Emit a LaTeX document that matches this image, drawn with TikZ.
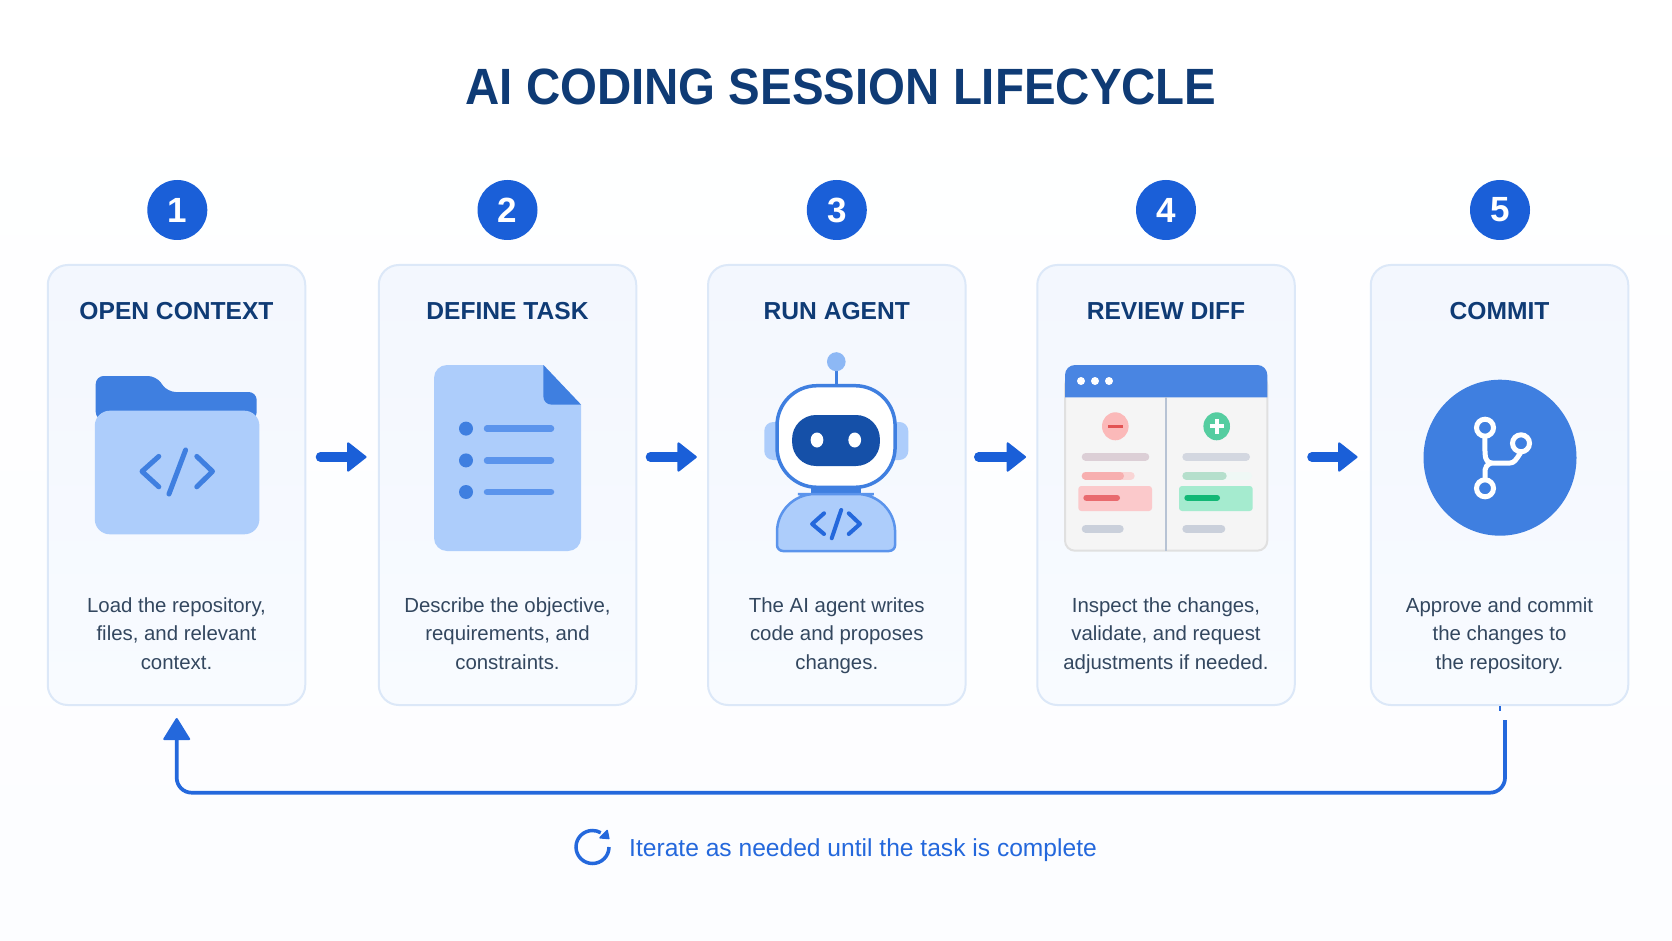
\documentclass[tikz,border=0pt]{standalone}
\usepackage{fontspec}
\setmainfont{Liberation Sans}
\newfontfamily\titlefont[FakeStretch=0.93]{Liberation Sans}
\usetikzlibrary{arrows.meta,calc}
\definecolor{navy}{HTML}{0F3B75}
\definecolor{bodytxt}{HTML}{33475F}
\definecolor{blue1}{HTML}{1A5FD8}
\definecolor{blue2}{HTML}{3F7FE0}
\definecolor{blue3}{HTML}{5B94EC}
\definecolor{pale}{HTML}{ADCDFB}
\definecolor{visor}{HTML}{1550A8}
\definecolor{antenna}{HTML}{8DB8F5}
\definecolor{cardedge}{HTML}{DCE8F8}
\definecolor{linkc}{HTML}{2468DC}
\definecolor{cardtop}{HTML}{F3F7FE}
\definecolor{cardbot}{HTML}{F8FBFF}
\definecolor{pagebot}{HTML}{FCFDFF}
\tikzset{
  x=1pt,y=-1pt,
  cardbox/.style={draw=cardedge,line width=2pt,rounded corners=20pt,top color=cardtop,bottom color=cardbot,minimum width=257.5pt,minimum height=440pt,inner sep=0pt},
  numdot/.style={circle,fill=blue1,text=white,minimum size=60pt,inner sep=0pt,font=\fontsize{35}{35}\selectfont\bfseries},
  headtxt/.style={text=navy,font=\fontsize{24.6}{25}\selectfont\bfseries,inner sep=0pt},
  desctxt/.style={text=bodytxt,align=center,inner sep=0pt,font=\fontsize{20.4}{28.4}\selectfont},
  stepflow/.style={-{Triangle[length=20pt,width=31pt,round,line width=2pt]},line width=9.5pt,blue1,line cap=round},
  loopflow/.style={-{Triangle[length=23pt,width=28pt,round,line width=2pt]},line width=3.7pt,linkc,rounded corners=15pt},
  codeglyph/.style={line width=#1,line cap=round,line join=round},
  bar/.style={line width=8pt,line cap=round},
}
\begin{document}
\begin{tikzpicture}
\useasboundingbox (0,0) rectangle (1672,941);
\shade[top color=white,bottom color=pagebot] (0,0) rectangle (1672,941);
\node[text=navy,font=\fontsize{51}{51}\selectfont\titlefont\bfseries,inner sep=0pt] (title) at (841,87) {AI CODING SESSION LIFECYCLE};

% cards
\node[cardbox] (c1) at (176.5,485) {};
\node[cardbox] (c2) at (507.5,485) {};
\node[cardbox] (c3) at (836.8,485) {};
\node[cardbox] (c4) at (1166,485) {};
\node[cardbox] (c5) at (1499.5,485) {};

% number badges
\node[numdot] (n1) at (177.3,210) {1};
\node[numdot] (n2) at (507.5,210) {2};
\node[numdot] (n3) at (836.8,210) {3};
\node[numdot] (n4) at (1166,210) {4};
\node[numdot] (n5) at (1500,210) {5};

% headings
\node[headtxt] (h1) at (176.5,311) {OPEN CONTEXT};
\node[headtxt] (h2) at (507.5,311) {DEFINE TASK};
\node[headtxt] (h3) at (836.8,311) {RUN AGENT};
\node[headtxt] (h4) at (1166,311) {REVIEW DIFF};
\node[headtxt] (h5) at (1499.5,311) {COMMIT};

% descriptions
\node[desctxt] (d1) at (176.5,633.5) {Load the repository,\\files, and relevant\\context.};
\node[desctxt] (d2) at (507.5,633.5) {Describe the objective,\\requirements, and\\constraints.};
\node[desctxt] (d3) at (836.8,635.5) {The AI agent writes\\code and proposes\\changes.};
\node[desctxt] (d4) at (1166,635.5) {Inspect the changes,\\validate, and request\\adjustments if needed.};
\node[desctxt] (d5) at (1499.5,635.5) {Approve and commit\\the changes to\\the repository.};

% folder icon
\fill[blue2,rounded corners=8pt] (95.7,420) -- (95.7,376) -- (156,376) -- (167.7,392) -- (256.7,392) -- (256.7,420) -- cycle;
\fill[pale,rounded corners=15pt] (94.8,410.7) rectangle (259.4,534.3);
\draw[codeglyph=5pt,color=blue2] (158.8,456.4) -- (142,471.4) -- (158.8,486.8);
\draw[codeglyph=5pt,color=blue2] (185.6,450) -- (169,494);
\draw[codeglyph=5pt,color=blue2] (196.8,456.4) -- (212.5,471.4) -- (196.8,486.8);

% document icon
\fill[pale] (543.4,365) [rounded corners=13pt] -- (434,365) -- (434,551) -- (581,551) [sharp corners] -- (581,404.6) -- cycle;
\fill[blue2] (543.4,365) -- (581,404.6) [rounded corners=8pt] -- (543.4,404.6) [sharp corners] -- cycle;
\foreach \yy in {428.6,460.4,492}{
  \fill[blue2] (466,\yy) circle[radius=7pt];
  \draw[line width=6.5pt,line cap=round,color=blue3] (487,\yy) -- (551,\yy);
}

% robot icon
\begin{scope}[xshift=777pt,xscale=.98,xshift=-777pt]
\fill[pale,rounded corners=9pt] (764,422) rectangle (790,460);
\fill[pale,rounded corners=9pt] (885,422) rectangle (911,460);
\draw[line width=3pt,blue2] (837.5,370) -- (837.5,386);
\fill[antenna] (837.5,361.7) circle[radius=9.5pt];
\fill[blue2] (811.7,480) rectangle (862.5,500);
\draw[line width=3.5pt,blue2,fill=white,rounded corners=40pt] (777,385.7) rectangle (897.5,487.3);
\filldraw[line width=2.5pt,draw=blue3,fill=pale] (837,494) [rounded corners=38pt] -- (777,494) [rounded corners=6pt] -- (777,551) -- (897.5,551) [rounded corners=38pt] -- (897.5,494) -- cycle;
\fill[color=visor,rounded corners=24pt] (792.4,415) rectangle (882,466);
\fill[white] (817.8,440) ellipse[x radius=6.5pt,y radius=7.5pt];
\fill[white] (856.3,440) ellipse[x radius=6.5pt,y radius=7.5pt];
\draw[codeglyph=4pt,color=linkc] (825,513.3) -- (812.8,524) -- (825,534);
\draw[codeglyph=4pt,color=linkc] (842.5,510) -- (832.8,538.3);
\draw[codeglyph=4pt,color=linkc] (850.2,513.3) -- (861.7,524) -- (850.2,534);
\end{scope}

% diff icon
\filldraw[draw=black!12,fill=black!4!white,line width=2pt,rounded corners=10pt] (1065,375) rectangle (1267.3,550.7);
\fill[color=blue2!95!white] (1065,397.3) [rounded corners=10pt] -- (1065,365) -- (1267.3,365) [sharp corners] -- (1267.3,397.3) -- cycle;
\foreach \xx in {1081,1095,1109} \fill[white] (\xx,381) circle[radius=4pt];
\definecolor{divc}{HTML}{B7C3D4}
\draw[line width=2pt,color=divc] (1166.3,397.3) -- (1166.3,550.7);
\definecolor{mycr}{HTML}{FBB9B9}\definecolor{mycg}{HTML}{55CDA0}
\fill[color=mycr] (1115.3,426.3) ellipse[x radius=13.3pt,y radius=14pt];
\definecolor{mycr}{HTML}{E25353}
\draw[line width=3.5pt,color=mycr] (1108.3,426.3) -- (1122.7,426.3);
\fill[color=mycg] (1216.7,426.3) ellipse[x radius=13.3pt,y radius=14pt];
\draw[line width=4pt,white] (1209.5,426.3) -- (1223.9,426.3) (1216.7,419) -- (1216.7,433.6);
\definecolor{mycx}{HTML}{DCCFD6}
\draw[bar,color=mycx] (1085.7,456.7) -- (1145.3,456.7);
\definecolor{mycx}{HTML}{D3D7E0}
\draw[bar,color=mycx] (1186.3,456.7) -- (1246,456.7);
\definecolor{mycx}{HTML}{F9D5D5}
\draw[bar,color=mycx] (1085.7,475.7) -- (1130.7,475.7);
\definecolor{mycx}{HTML}{F7AFAF}
\draw[bar,color=mycx] (1085.7,475.7) -- (1120,475.7);
\definecolor{mycx}{HTML}{EFF8F5}
\draw[bar,color=mycx] (1186.3,475.7) -- (1248,475.7);
\definecolor{mycx}{HTML}{B5DFCC}
\draw[bar,color=mycx] (1186.3,475.7) -- (1222.7,475.7);
\definecolor{mycx}{HTML}{FBC9CB}
\fill[color=mycx,rounded corners=3pt] (1078.3,486) rectangle (1152,511);
\definecolor{mycx}{HTML}{A5EBCF}
\fill[color=mycx,rounded corners=3pt] (1179,486) rectangle (1252.7,511);
\definecolor{mycx}{HTML}{E96A6E}
\draw[line width=6pt,line cap=round,color=mycx] (1086.3,497.7) -- (1117,497.7);
\definecolor{mycx}{HTML}{12B876}
\draw[line width=6pt,line cap=round,color=mycx] (1187.3,497.7) -- (1217,497.7);
\definecolor{mycx}{HTML}{CAD0DB}
\draw[bar,color=mycx] (1085.7,528.7) -- (1119.7,528.7);
\draw[bar,color=mycx] (1186.3,528.7) -- (1221.3,528.7);

% commit icon
\fill[blue2] (1500,457.7) ellipse[x radius=76.5pt,y radius=78pt];
\draw[line width=5pt,white] (1485,427.7) circle[radius=8.5pt];
\draw[line width=5pt,white] (1521,443.3) circle[radius=8.5pt];
\draw[line width=5pt,white] (1485,488.3) circle[radius=8.5pt];
\draw[line width=5pt,white,line join=round] (1484.8,436) -- (1485,453) .. controls (1485,460) and (1488,463) .. (1492,463) -- (1510,463) .. controls (1514,463) and (1516,460) .. (1521,452);
\draw[line width=5pt,white] (1485,480) -- (1485,470) .. controls (1485,467) and (1487,465) .. (1491,463);

% arrows between cards
\draw[stepflow] ($(c1.east)+(14.2,-28)$) -- ($(c2.west)+(-11.2,-28)$);
\draw[stepflow] ($(c2.east)+(13.2,-28)$) -- ($(c3.west)+(-10.2,-28)$);
\draw[stepflow] ($(c3.east)+(12.2,-28)$) -- ($(c4.west)+(-10.2,-28)$);
\draw[stepflow] ($(c4.east)+(16.2,-28)$) -- ($(c5.west)+(-12.2,-28)$);

% feedback loop
\draw[line width=2pt,linkc] ($(c5.south)+(0.5,0)$) -- ++(0,5);
\draw[loopflow] ($(c5.south)+(5.5,14)$) -- ++(0,72.7) -| ($(c1.south)+(0.2,12)$);

% iterate note
\draw[line width=3.5pt,linkc] (609,847) arc[start angle=0,end angle=-300,radius=16.5pt];
\fill[linkc,draw=linkc,line width=1.5pt,line join=round] (607.2,830.5) -- (608.8,838.5) -- (600,837.8) -- cycle;
\node[text=linkc,font=\fontsize{24.6}{24.6}\selectfont,anchor=west,inner sep=0pt] (note) at (629,850) {Iterate as needed until the task is complete};
\end{tikzpicture}
\end{document}
